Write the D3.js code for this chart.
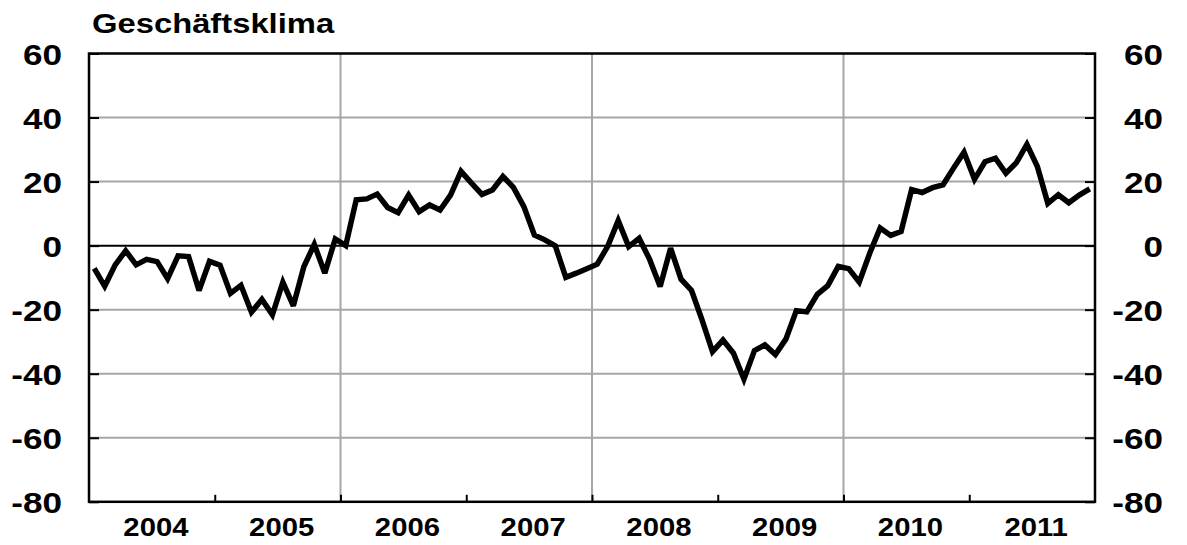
<!DOCTYPE html>
<html>
<head>
<meta charset="utf-8">
<script src="https://cdn.jsdelivr.net/npm/d3@7"></script>
<style>
  html, body { margin: 0; padding: 0; background: #fff; }
  text { font-family: "Liberation Sans", Arial, sans-serif; font-weight: bold; fill: #000; }
</style>
</head>
<body>
<svg id="chart" width="1187" height="545"></svg>
<script>
const title = "Geschäftsklima";
const years = ["2004", "2005", "2006", "2007", "2008", "2009", "2010", "2011"];
const yTicks = [60, 40, 20, 0, -20, -40, -60, -80];
const gridYears = [2, 4, 6]; // vertical gridlines at start of 2006, 2008, 2010 (index of year)
// monthly values Jan 2004 .. Dec 2011
const values2004 = [-7.1, -12.7, -6.0, -1.6, -6.0, -4.3, -5.0, -10.3, -3.2, -3.4, -14.0, -4.9];
const values2005 = [-6.1, -14.9, -12.4, -20.8, -16.8, -21.6, -11.4, -18.8, -6.6, 0.4, -8.6, 2.1];
const values2006 = [0.0, 14.3, 14.6, 16.1, 11.9, 10.3, 15.8, 10.6, 12.7, 11.1, 15.8, 23.2];
const values2007 = [19.5, 16.0, 17.4, 21.6, 18.2, 12.2, 3.3, 1.8, -0.1, -9.9, -8.6, -7.2];
const values2008 = [-5.8, -0.2, 7.8, -0.3, 2.3, -4.3, -12.8, -0.8, -10.5, -14.0, -23.2, -33.1];
const values2009 = [-29.5, -33.6, -41.7, -32.8, -31.0, -34.0, -29.2, -20.3, -20.7, -15.2, -12.5, -6.5];
const values2010 = [-7.2, -11.4, -2.4, 5.5, 3.2, 4.4, 17.5, 16.6, 18.1, 19.0, 24.2, 29.2];
const values2011 = [20.7, 26.2, 27.3, 22.6, 25.9, 31.6, 24.7, 13.2, 15.9, 13.4, 15.8, 17.7];
const values = [].concat(values2004, values2005, values2006, values2007, values2008, values2009, values2010, values2011);

const svg = d3.select("#chart");
const pLeft = 89, pRight = 1095, pTop = 53.5, pBottom = 501.8;
const SX = 1.17; // horizontal stretch of text

const x = d3.scaleLinear().domain([0, values.length]).range([pLeft, pRight]);
const y = d3.scaleLinear().domain([-80, 60]).range([pBottom, pTop]);

function stretchedText(g, tx, ty, str, size, anchor) {
  return g.append("text")
    .attr("transform", `translate(${tx},${ty}) scale(${SX},1)`)
    .attr("text-anchor", anchor)
    .style("font-size", size + "px")
    .text(str);
}

// horizontal gridlines
svg.append("g").selectAll("line").data(yTicks.filter(d => d !== 0 && d !== 60 && d !== -80)).join("line")
  .attr("x1", pLeft).attr("x2", pRight)
  .attr("y1", d => y(d)).attr("y2", d => y(d))
  .attr("stroke", "#a6a6a6").attr("stroke-width", 2);

// vertical gridlines
svg.append("g").selectAll("line").data(gridYears).join("line")
  .attr("x1", d => x(d * 12)).attr("x2", d => x(d * 12))
  .attr("y1", pTop).attr("y2", pBottom)
  .attr("stroke", "#a6a6a6").attr("stroke-width", 2);

// zero line
svg.append("line")
  .attr("x1", pLeft).attr("x2", pRight)
  .attr("y1", y(0)).attr("y2", y(0))
  .attr("stroke", "#000").attr("stroke-width", 2);

// axes (ticks inward)
const leftAxis = d3.axisRight(y).tickValues(yTicks).tickSize(10).tickFormat("");
const rightAxis = d3.axisLeft(y).tickValues(yTicks).tickSize(10).tickFormat("");
const bottomAxis = d3.axisTop(x).tickValues(d3.range(1, years.length).map(i => i * 12)).tickSize(7).tickFormat("");

const gl = svg.append("g").attr("transform", `translate(${pLeft},0)`).call(leftAxis);
const gr = svg.append("g").attr("transform", `translate(${pRight},0)`).call(rightAxis);
const gb = svg.append("g").attr("transform", `translate(0,${pBottom})`).call(bottomAxis);
[gl, gr, gb].forEach(g => {
  g.select(".domain").remove();
  g.selectAll(".tick line").attr("stroke", "#000").attr("stroke-width", 2);
});

// frame
svg.append("rect")
  .attr("x", pLeft).attr("y", pTop)
  .attr("width", pRight - pLeft).attr("height", pBottom - pTop)
  .attr("fill", "none").attr("stroke", "#000").attr("stroke-width", 2.5);

// data line
const line = d3.line().x((d, i) => x(i + 0.5)).y(d => y(d));
svg.append("path")
  .datum(values)
  .attr("d", line)
  .attr("fill", "none")
  .attr("stroke", "#000")
  .attr("stroke-width", 5.5)
  .attr("stroke-linejoin", "miter")
  .attr("stroke-miterlimit", 3);

// y labels
const labels = svg.append("g");
yTicks.forEach(v => {
  stretchedText(labels, 62, y(v) + 11, String(v), 30, "end");
  stretchedText(labels, 1163, y(v) + 11, String(v), 30, "end");
});

// year labels
years.forEach((yr, i) => {
  stretchedText(labels, x(i * 12 + 6) + 4, 536, yr, 25, "middle");
});

// title
stretchedText(labels, 92, 33, title, 28, "start");
</script>
</body>
</html>
